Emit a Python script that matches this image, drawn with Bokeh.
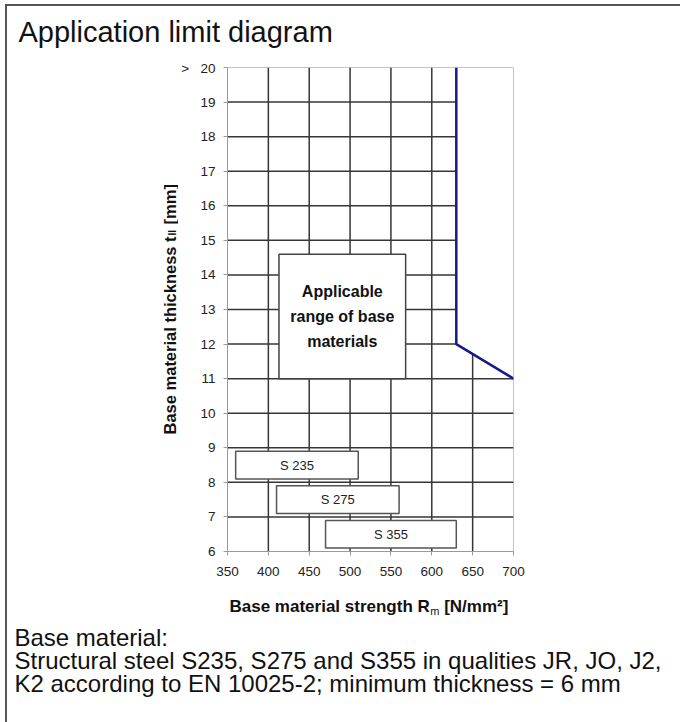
import numpy as np
from math import pi
from bokeh.plotting import figure
from bokeh.layouts import column, row
from bokeh.models import Range1d, FixedTicker, ColumnDataSource
from bokeh.embed import file_html
from bokeh.resources import INLINE
from bokeh.core.properties import value

# ---------------- data ----------------
x_ticks = [350, 400, 450, 500, 550, 600, 650, 700]
y_ticks = [6, 7, 8, 9, 10, 11, 12, 13, 14, 15, 16, 17, 18, 19, 20]
y_tick_labels = ["6", "7", "8", "9", "10", "11", "12", "13", "14", "15", "16", "17", "18",
                 "19", "˃\u00a0\u00a0\u00a020"]

limit_x = [630, 630, 700]
limit_y = [20, 12, 11]

steel_names = ["S 235", "S 275", "S 355"]
steel_left = [360, 410, 470]
steel_right = [510, 560, 630]
steel_bottom = [8.1, 7.1, 6.1]
steel_top = [8.9, 7.9, 6.9]

range_left = [413]
range_right = [568]
range_bottom = [11.0]
range_top = [14.6]
range_text = ["Applicable\nrange of base\nmaterials"]

grid_y = [7, 8, 9, 10, 11, 12, 13, 14, 15, 16, 17, 18, 19]
grid_x = [400, 450, 500, 550, 600, 650]

title_text = "Application limit diagram"
x_title = ["Base material strength R", "m", "[N/mm²]"]
y_title = ["Base material thickness t", "II", "[mm]"]
note_lines = [
    "Base material:",
    "Structural steel S235, S275 and S355 in qualities JR, JO, J2,",
    "K2 according to EN 10025-2; minimum thickness = 6 mm",
]

FONT = "Liberation Sans"

# page layout (pixels)
PAGE_W, PAGE_H = 680, 722
TOP_H = 60
MID_H = 530
BOT_H = PAGE_H - TOP_H - MID_H
YT_W = 178
MAIN_W = PAGE_W - YT_W
FRAME_L, FRAME_R, FRAME_T, FRAME_B = 226, 513, 67, 551
BT = FRAME_T - TOP_H            # border above the plot frame
BB = TOP_H + MID_H - FRAME_B    # border below the plot frame


def text_fig(w, h, bt=0, bb=0):
    f = figure(width=w, height=h, x_range=Range1d(0, w), y_range=Range1d(0, h - bt - bb),
               output_backend="svg", toolbar_location=None, title=None,
               x_axis_type=None, y_axis_type=None, min_border=0,
               min_border_top=bt, min_border_bottom=bb, min_border_left=0, min_border_right=0)
    f.outline_line_color = None
    f.grid.visible = False
    f.background_fill_color = None
    f.border_fill_color = None
    return f


def put(f, ox, oy, h, text, px, py, size, bold=False, angle=0.0, align="left",
        baseline="middle", color="#111111"):
    # (ox, oy): page position of the figure's frame top-left, h: frame height
    f.text(x=[px - ox], y=[oy + h - py], text=[text], angle=angle,
           text_font=value(FONT), text_font_size=f"{size}px",
           text_font_style="bold" if bold else "normal",
           text_align=align, text_baseline=baseline, text_color=color)


# ---------------- top strip: title ----------------
top = text_fig(PAGE_W, TOP_H)
put(top, 0, 0, TOP_H, title_text, 18, 31, 29)

# ---------------- left strip: y-axis title ----------------
yt = text_fig(YT_W, MID_H, BT, BB)
FH = MID_H - BT - BB
ys = 16.5
wy = 12.005 * ys
yb = 434
put(yt, 0, FRAME_T, FH, y_title[0], 169, yb, ys, bold=True, angle=pi / 2)
put(yt, 0, FRAME_T, FH, y_title[1], 172, yb - wy - 1, 10, bold=True, angle=pi / 2)
put(yt, 0, FRAME_T, FH, y_title[2], 169, yb - wy - 12, ys, bold=True, angle=pi / 2)

# ---------------- main chart ----------------
p = figure(width=MAIN_W, height=MID_H, x_range=Range1d(350, 700), y_range=Range1d(6, 20),
           output_backend="svg", toolbar_location=None, title=None,
           min_border_left=FRAME_L - YT_W, min_border_right=PAGE_W - FRAME_R,
           min_border_top=BT, min_border_bottom=BB)
p.background_fill_color = "white"
p.border_fill_color = None
p.outline_line_color = "#c4c4c4"
p.outline_line_width = 1
p.grid.visible = False

for ax in (p.xaxis[0], p.yaxis[0]):
    ax.axis_line_color = "#9a9a9a"
    ax.major_tick_line_color = "#9a9a9a"
    ax.major_tick_in = 0
    ax.major_tick_out = 4
    ax.minor_tick_line_color = None
    ax.major_label_text_font = FONT
    ax.major_label_text_font_size = "13.5px"
    ax.major_label_text_color = "#222222"
p.xaxis.major_label_standoff = 11
p.yaxis.major_label_standoff = 8
p.xaxis.ticker = FixedTicker(ticks=x_ticks)
p.yaxis.ticker = FixedTicker(ticks=y_ticks)
p.yaxis.major_label_overrides = {t: s for t, s in zip(y_ticks, y_tick_labels)}

# grid clipped to the applicable region (boundary given by limit line)
h_end = np.interp(grid_y, limit_y[::-1], limit_x[::-1], left=limit_x[-1])
v_end = np.interp(grid_x, limit_x[1:], limit_y[1:], left=limit_y[0])
p.segment(x0=[x_ticks[0]] * len(grid_y), y0=grid_y, x1=h_end, y1=grid_y,
          line_color="#363636", line_width=1.5)
p.segment(x0=grid_x, y0=[y_ticks[0]] * len(grid_x), x1=grid_x, y1=v_end,
          line_color="#363636", line_width=1.5)

# limit line
p.line(limit_x, limit_y, line_color="#18188a", line_width=2.5)

# applicable range box
rsrc = ColumnDataSource(dict(l=range_left, r=range_right, b=range_bottom, t=range_top,
                             cx=[(a + b) / 2 for a, b in zip(range_left, range_right)],
                             cy=[(a + b) / 2 for a, b in zip(range_bottom, range_top)],
                             txt=range_text))
p.quad(left="l", right="r", bottom="b", top="t", source=rsrc,
       fill_color="white", line_color="#444444", line_width=1.5)
p.text(x="cx", y="cy", text="txt", source=rsrc, text_align="center", text_baseline="middle",
       text_font=value(FONT), text_font_style="bold", text_font_size="16px",
       text_line_height=1.45, text_color="#111111")

# steel grade boxes
ssrc = ColumnDataSource(dict(l=steel_left, r=steel_right, b=steel_bottom, t=steel_top,
                             cx=[(a + b) / 2 for a, b in zip(steel_left, steel_right)],
                             cy=[(a + b) / 2 for a, b in zip(steel_bottom, steel_top)],
                             txt=steel_names))
p.quad(left="l", right="r", bottom="b", top="t", source=ssrc,
       fill_color="white", line_color="#555555", line_width=1.5)
p.text(x="cx", y="cy", text="txt", source=ssrc, text_align="center", text_baseline="middle",
       text_font=value(FONT), text_font_size="13px", text_color="#222222")

# ---------------- bottom strip: x-axis title + notes ----------------
OY = TOP_H + MID_H
bot = text_fig(PAGE_W, BOT_H)
xs = 17
w1 = 11.781 * xs
x0 = 229
put(bot, 0, OY, BOT_H, x_title[0], x0, 606, xs, bold=True)
put(bot, 0, OY, BOT_H, x_title[1], x0 + w1 + 0.5, 610, 11)
put(bot, 0, OY, BOT_H, x_title[2], x0 + w1 + 0.5 + 9.2 + 4.7, 606, xs, bold=True)
for i, line in enumerate(note_lines):
    put(bot, 0, OY, BOT_H, line, 14, 637 + 23 * i, 24)

layout = column(top, row(yt, p), bot,
                styles={"box-shadow": "inset 5px 4px 0 0 #ffffff, inset 7px 6px 0 0 #555555",
                        "background-color": "#ffffff"})
open("out.html", "w").write(file_html(layout, INLINE))
